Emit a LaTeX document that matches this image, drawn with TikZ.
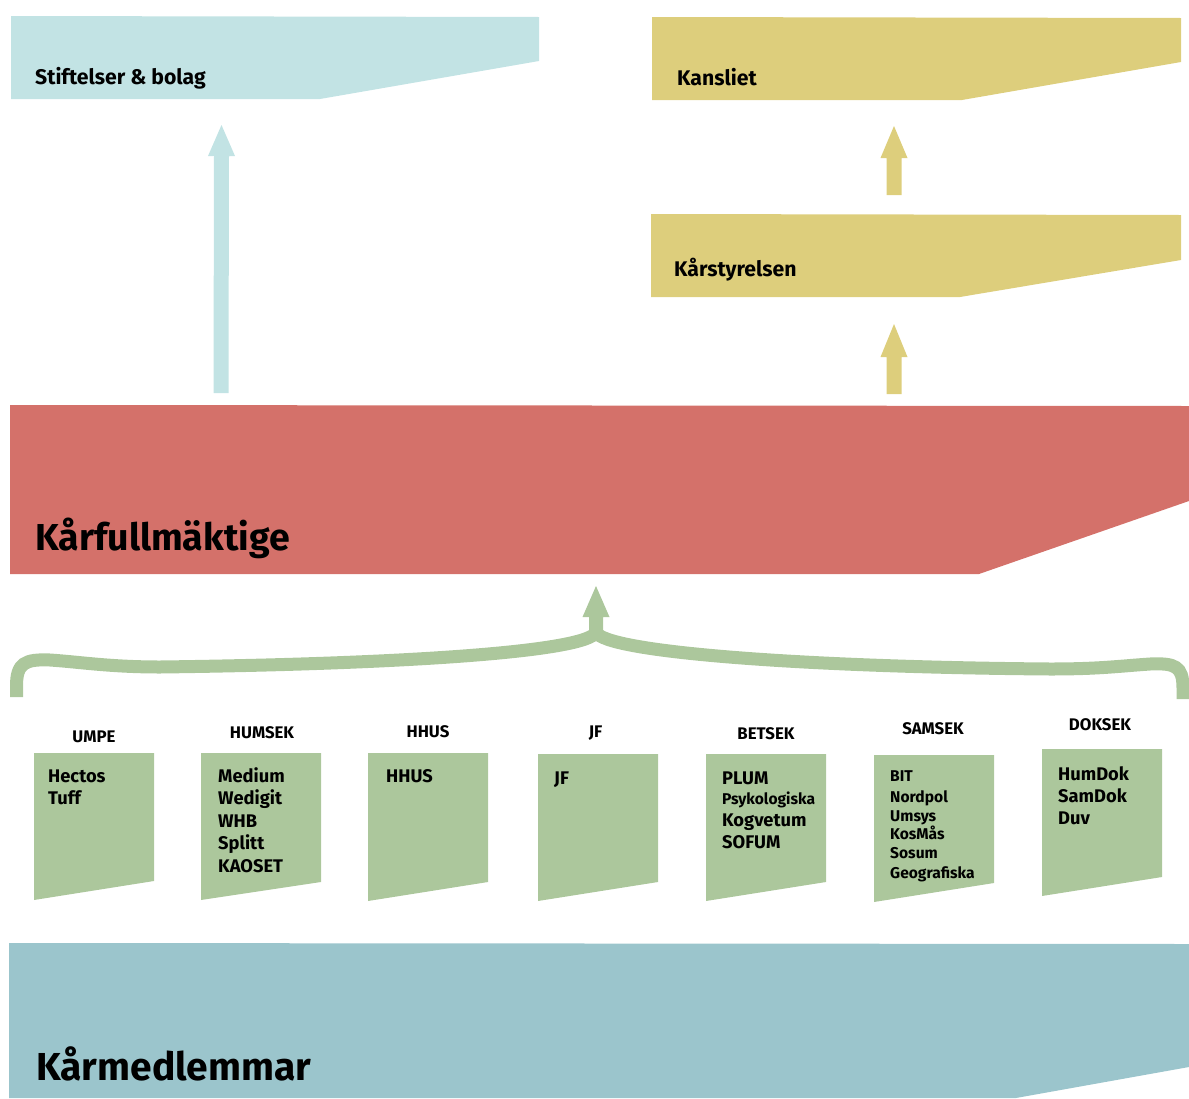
\documentclass[tikz,border=0pt]{standalone}
\usepackage{fontspec}
\setmainfont{Fira Sans}
\definecolor{skyb}{HTML}{C2E3E4}
\definecolor{yell}{HTML}{DDCE7C}
\definecolor{redb}{HTML}{D4716A}
\definecolor{grn}{HTML}{ACC79C}
\definecolor{botb}{HTML}{9BC5CC}
\begin{document}
\begin{tikzpicture}[x=1pt,y=-1pt,
  ttl/.style={font=\bfseries\fontsize{21.2}{25}\selectfont, anchor=base west, inner sep=0pt},
  big/.style={font=\bfseries\fontsize{37.5}{42}\selectfont, anchor=base west, inner sep=0pt},
  lbl/.style={font=\bfseries\fontsize{16.8}{19}\selectfont, anchor=center, inner sep=0pt},
  itm/.style={font=\bfseries\fontsize{18.3}{21}\selectfont, anchor=base west, inner sep=0pt},
  itms/.style={font=\bfseries\fontsize{15.6}{18}\selectfont, anchor=base west, inner sep=0pt},
  brace/.style={draw=grn, line width=13pt, line cap=butt}
]
\useasboundingbox (0,0) rectangle (1189,1098);

% top boxes
\fill[skyb] (11,16) -- (539,17) -- (539,61) -- (320,99) -- (11,99) -- cycle;
\node[ttl] (stift) at (35,84) {Stiftelser \& bolag};
\fill[yell] (652,17) -- (1181,18) -- (1181,62) -- (962,100) -- (652,100) -- cycle;
\node[ttl] (kans) at (677,85) {Kansliet};
\fill[yell] (651,214) -- (1181,215) -- (1181,260) -- (960,297) -- (651,297) -- cycle;
\node[ttl] (styr) at (674,276) {Kårstyrelsen};

% red
\fill[redb] (10,405) -- (1189,406) -- (1189,501) -- (979,574) -- (10,574) -- cycle;
\node[big] (kf) at (35,550) {Kårfullmäktige};

% bottom
\fill[botb] (9,943) -- (1189,944) -- (1189,1067) -- (1016,1098) -- (9,1098) -- cycle;
\node[big, font=\bfseries\fontsize{39}{43}\selectfont] (km) at (36,1080) {Kårmedlemmar};

% arrows
\fill[skyb] (213.5,393) -- (214,156) -- (208,156) -- (221.5,125) -- (235,156) -- (229,156) -- (228.5,393) -- cycle;
\fill[yell] (886.5,195) -- (886.5,158) -- (880.5,158) -- (894,126) -- (907.5,158) -- (901.5,158) -- (901.5,195) -- cycle;
\fill[yell] (886.5,394) -- (886.5,357) -- (880.5,357) -- (894,324) -- (907.5,357) -- (901.5,357) -- (901.5,394) -- cycle;

% brace
\draw[brace] (16.5,697) -- (16.5,686) .. controls (16.5,663) and (25,659) .. (50,660)
   .. controls (80,662) and (110,667) .. (160,667)
   .. controls (400,664) and (588,652) .. (596,632);
\draw[brace] (1183,699) -- (1183,688) .. controls (1183,666) and (1175,663) .. (1150,664)
   .. controls (1120,666) and (1100,669) .. (1050,669)
   .. controls (800,667) and (604,652) .. (596,632);
\fill[grn] (589,636) -- (589,617) -- (582.5,617) -- (596,586) -- (609.5,617) -- (603,617) -- (603,636) -- cycle;

% green boxes
\fill[grn] (34,753) -- (154,753) -- (154,881) -- (34,900) -- cycle;
\fill[grn] (201,753) -- (321,753) -- (321,882) -- (201,900) -- cycle;
\fill[grn] (368,753) -- (488,753) -- (488,882) -- (368,901) -- cycle;
\fill[grn] (538,754) -- (658,754) -- (658,882) -- (538,901) -- cycle;
\fill[grn] (706,754) -- (826,754) -- (826,882) -- (706,901) -- cycle;
\fill[grn] (874,755) -- (994,755) -- (994,883) -- (874,902) -- cycle;
\fill[grn] (1042,749) -- (1162,749) -- (1162,877) -- (1042,896) -- cycle;

\node[lbl] (l1) at (94,737) {UMPE};
\node[lbl] (l2) at (262,733) {HUMSEK};
\node[lbl] (l3) at (428,732) {HHUS};
\node[lbl] (l4) at (595.5,733) {JF};
\node[lbl] (l5) at (766,734) {BETSEK};
\node[lbl] (l6) at (933,729) {SAMSEK};
\node[lbl] (l7) at (1100,725) {DOKSEK};

\foreach \t [count=\i from 0] in {Hectos,Tuff}
  \node[itm] (a\i) at (48,782+22*\i) {\t};
\foreach \t [count=\i from 0] in {Medium,Wedigit,WHB,Splitt,KAOSET}
  \node[itm] (b\i) at (218,782+22.5*\i) {\t};
\node[itm] (c0) at (386,782) {HHUS};
\node[itm] (d0) at (554,784) {JF};
\node[itm] (e0) at (722,784) {PLUM};
\node[itms] (e1) at (722,804) {Psykologiska};
\node[itm] (e2) at (722,826) {Kogvetum};
\node[itm] (e3) at (722,848) {SOFUM};
\foreach \t/\yy [count=\i from 0] in {BIT/781,Nordpol/802,Umsys/821,KosMås/839,Sosum/858,Geografiska/878}
  \node[itms] (f\i) at (890,\yy) {\t};
\foreach \t [count=\i from 0] in {HumDok,SamDok,Duv}
  \node[itm] (g\i) at (1058,780+22*\i) {\t};
\end{tikzpicture}
\end{document}
